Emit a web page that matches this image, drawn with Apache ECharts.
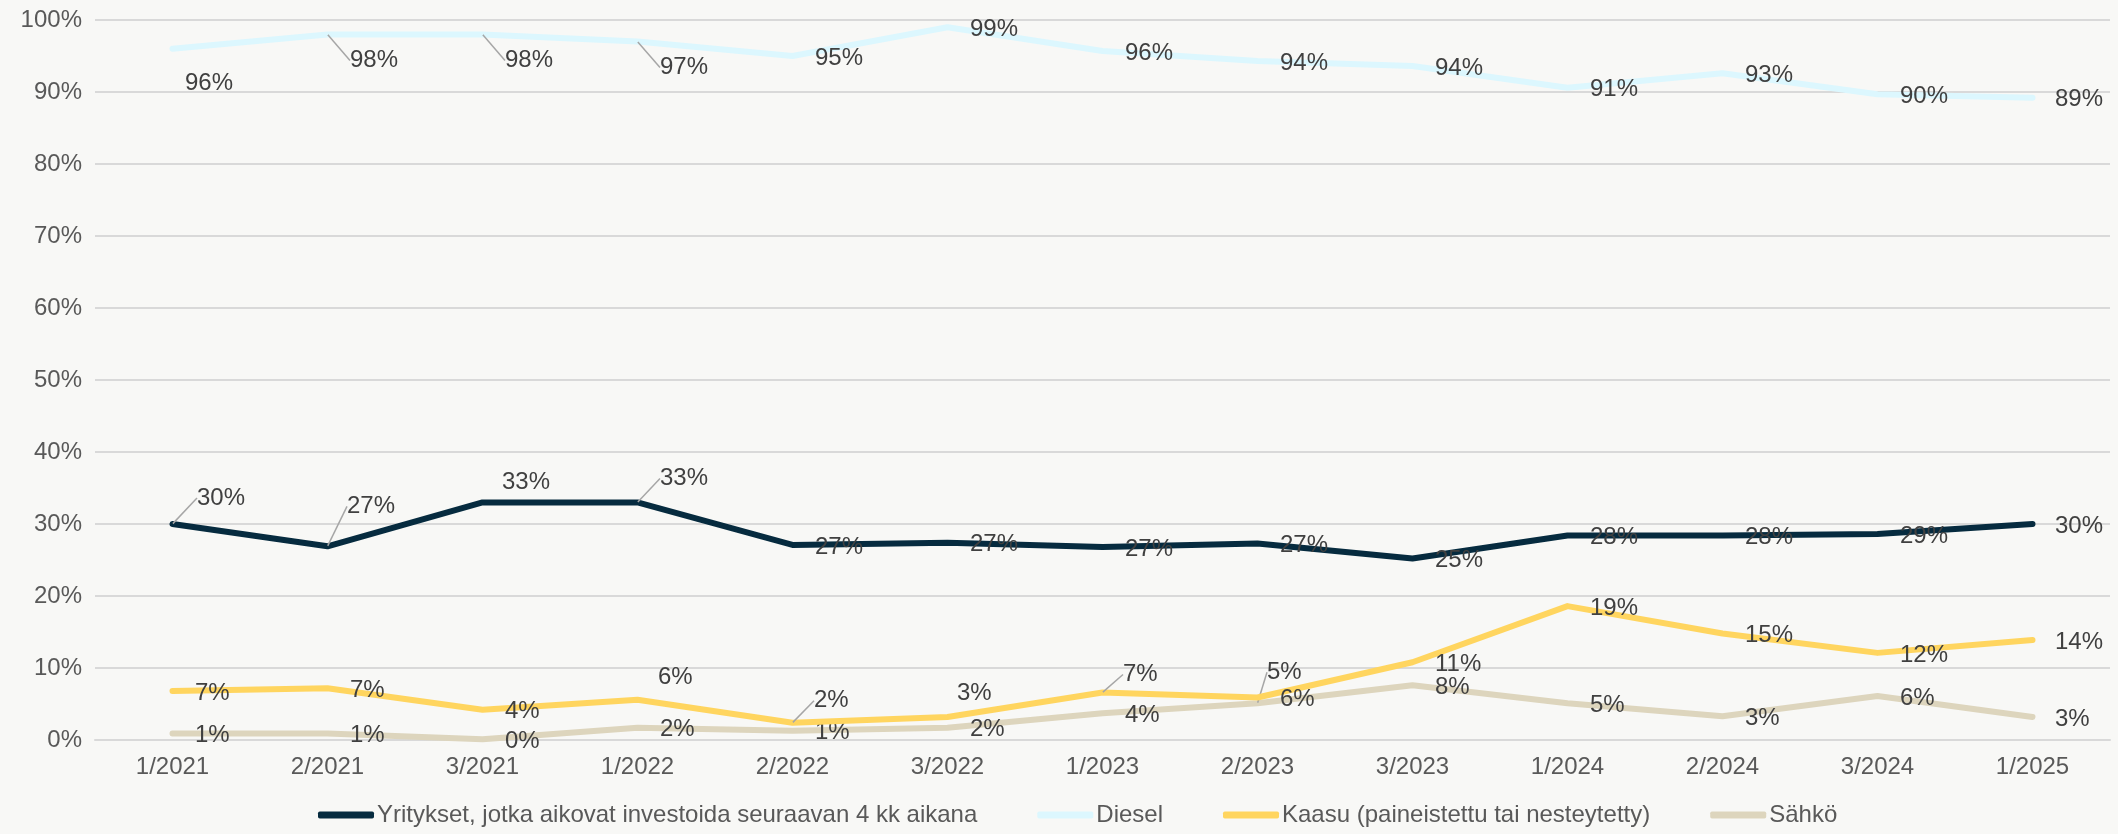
<!DOCTYPE html>
<html>
<head>
<meta charset="utf-8">
<script src="https://cdn.jsdelivr.net/npm/echarts@6/dist/echarts.min.js"></script>
<style>
  html, body { margin: 0; padding: 0; background: #f8f8f6; }
  #chart { width: 2118px; height: 834px; }
</style>
</head>
<body>
<div id="chart"></div>
<script>
var categories = ['1/2021', '2/2021', '3/2021', '1/2022', '2/2022', '3/2022', '1/2023', '2/2023', '3/2023', '1/2024', '2/2024', '3/2024', '1/2025'];
var yritykset = [30, 26.9, 33, 33, 27.1, 27.4, 26.8, 27.3, 25.2, 28.4, 28.4, 28.6, 30];
var diesel = [96, 98, 98, 97, 95, 99, 95.7, 94.3, 93.6, 90.6, 92.6, 89.7, 89.2];
var kaasu = [6.8, 7.2, 4.2, 5.6, 2.4, 3.2, 6.6, 5.9, 10.8, 18.6, 14.8, 12.1, 13.9];
var sahko = [0.9, 0.9, 0.1, 1.7, 1.3, 1.7, 3.7, 5.1, 7.6, 5.1, 3.3, 6.1, 3.2];
var yTicks = [0, 100, 10];

var seriesNames = [
  'Yritykset, jotka aikovat investoida seuraavan 4 kk aikana',
  'Diesel',
  'Kaasu (paineistettu tai nesteytetty)',
  'Sähkö'
];
var colors = ['#062b3f', '#dcf7fe', '#ffd55f', '#ddd5bd'];

// label nudges [dx, dy, leader] per series / index
var shifts = [
  { 0: [2, -26, 1], 1: [-3, -40, 1], 2: [-3, -20], 3: [0, -24, 1] },
  { 0: [-10, 35], 1: [0, 26, 1], 2: [0, 26, 1], 3: [0, 26, 1] },
  { 3: [-2, -22], 4: [-1, -22, 1], 5: [-13, -24], 6: [-2, -18, 1] },
  { 7: [-13, -31, 1] }
];

function buildData(values, s) {
  return values.map(function (v, i) {
    var sh = shifts[s][i];
    if (sh && sh[2]) {
      return { value: v, labelLine: { show: true } };
    }
    return v;
  });
}

var font = 'Liberation Sans, Arial, sans-serif';
var fs = 24;
var allValues = [yritykset, diesel, kaasu, sahko];

var chart = echarts.init(document.getElementById('chart'));
chart.setOption({
  animation: false,
  backgroundColor: '#f8f8f6',
  color: colors,
  textStyle: { fontFamily: font },
  grid: { left: 95, right: 8, top: 20, bottom: 94, containLabel: false },
  legend: {
    bottom: 2,
    left: 313,
    icon: 'roundRect',
    itemWidth: 56,
    itemHeight: 7,
    itemGap: 60,
    textStyle: { fontSize: fs, color: '#595959', fontFamily: font, padding: [0, 0, 0, -2] },
    data: seriesNames
  },
  xAxis: {
    type: 'category',
    data: categories,
    boundaryGap: true,
    axisLine: { show: true, lineStyle: { color: '#d9d9d9', width: 2 } },
    axisTick: { show: false },
    axisLabel: { fontSize: fs, color: '#595959', margin: 15, fontFamily: font }
  },
  yAxis: {
    type: 'value',
    min: yTicks[0],
    max: yTicks[1],
    interval: yTicks[2],
    axisLine: { show: false },
    axisTick: { show: false },
    splitLine: { lineStyle: { color: '#d9d9d9', width: 2 } },
    axisLabel: { fontSize: fs, color: '#595959', margin: 13, fontFamily: font, formatter: '{value}%' }
  },
  series: allValues.map(function (vals, s) {
    return {
      name: seriesNames[s],
      type: 'line',
      data: buildData(vals, s),
      symbol: 'circle',
      symbolSize: 1,
      showSymbol: true,
      z: 10 - s,
      lineStyle: { width: 6, color: colors[s], cap: 'round', join: 'round' },
      itemStyle: { color: colors[s] },
      label: {
        show: true,
        position: 'right',
        distance: 22,
        fontSize: fs,
        color: '#404040',
        fontFamily: font,
        formatter: function (p) { return Math.round(p.value) + '%'; }
      },
      labelLine: { show: false, lineStyle: { color: '#a6a6a6', width: 1.5 } },
      labelLayout: function (p) {
        var sh = shifts[s][p.dataIndex];
        if (sh) return { dx: sh[0], dy: sh[1] };
        return { dx: 0, dy: 2 };
      }
    };
  })
});
</script>
</body>
</html>
